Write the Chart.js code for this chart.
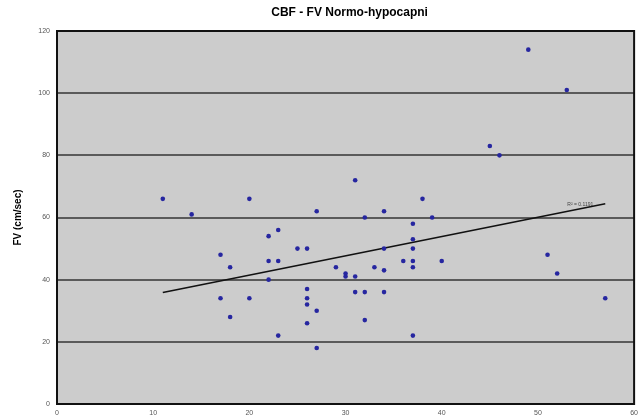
<!DOCTYPE html>
<html><head><meta charset="utf-8">
<script src="https://cdn.jsdelivr.net/npm/chart.js@4.4.1/dist/chart.umd.min.js"></script>
<style>html,body{margin:0;padding:0;background:#fff}#wrap{width:643px;height:418px}</style>
</head><body><div id="wrap"><canvas id="c" width="643" height="418"></canvas></div>
<script>
const chartTitle = 'CBF - FV Normo-hypocapni';
const yAxisTitle = 'FV (cm/sec)';
const xValues = [11,14,17,17,18,18,20,20,22,22,22,23,23,23,25,26,26,26,26,26,27,27,27,29,30,30,31,31,31,32,32,32,33,34,34,34,34,36,37,37,37,37,37,37,38,39,40,45,46,49,51,52,53,57];
const yValues = [66,61,48,34,44,28,66,34,54,46,40,56,46,22,50,50,37,34,32,26,62,30,18,44,42,41,72,41,36,60,36,27,44,62,50,43,36,46,58,53,50,46,44,22,66,60,46,83,80,114,48,42,101,34];
const xTickMin = 0, xTickMax = 60, xTickStep = 10;
const yTickMin = 0, yTickMax = 120, yTickStep = 20;

// linear regression (trend line) computed from the data
const n = xValues.length;
const mx = xValues.reduce((a,b)=>a+b,0)/n;
const my = yValues.reduce((a,b)=>a+b,0)/n;
let sxy=0, sxx=0, syy=0;
for (let i=0;i<n;i++){ sxy+=(xValues[i]-mx)*(yValues[i]-my); sxx+=(xValues[i]-mx)**2; syy+=(yValues[i]-my)**2; }
const slope = sxy/sxx, intercept = my - slope*mx;
const r2 = (sxy*sxy)/(sxx*syy);
const xMin = Math.min(...xValues), xMax = Math.max(...xValues);
const trend = [{x:xMin, y:intercept+slope*xMin},{x:xMax, y:intercept+slope*xMax}];
const points = xValues.map((x,i)=>({x, y:yValues[i]}));

const plotDeco = {
  id:'plotDeco',
  beforeDraw(chart){
    const {ctx, chartArea:a} = chart;
    ctx.save(); ctx.fillStyle='#cccccc';
    ctx.fillRect(a.left, a.top, a.right-a.left, a.bottom-a.top); ctx.restore();
  },
  beforeDatasetsDraw(chart){
    const {ctx, chartArea:a} = chart;
    ctx.save(); ctx.strokeStyle='#111'; ctx.lineWidth=2;
    ctx.strokeRect(a.left, a.top, a.right-a.left, a.bottom-a.top); ctx.restore();
  },
  afterDraw(chart){
    const {ctx, chartArea:a} = chart;
    ctx.save();
    ctx.fillStyle='#000'; ctx.font='bold 12px "Liberation Sans", Arial, sans-serif';
    ctx.textAlign='center'; ctx.textBaseline='middle';
    ctx.fillText(chartTitle, (a.left+a.right)/2 + 4, 13);
    const meta = chart.getDatasetMeta(1);
    const end = meta.data[meta.data.length-1];
    ctx.fillStyle='#444'; ctx.font='5px "Liberation Sans", Arial, sans-serif';
    ctx.textAlign='right'; ctx.textBaseline='alphabetic';
    ctx.fillText('R² = ' + r2.toFixed(4), end.x-12, end.y+2);
    ctx.restore();
  }
};

new Chart(document.getElementById('c'), {
  type:'scatter',
  data:{datasets:[
    {data:points, backgroundColor:'#2626a0', borderWidth:0, pointRadius:2.3, pointHoverRadius:2.3},
    {type:'line', data:trend, borderColor:'#111', borderWidth:1.6, pointRadius:0, fill:false, tension:0}
  ]},
  options:{
    responsive:false, animation:false, devicePixelRatio:1,
    layout:{padding:{top:31, right:7, left:0, bottom:0}},
    plugins:{legend:{display:false}, tooltip:{enabled:false}, title:{display:false}},
    scales:{
      x:{type:'linear', min:xTickMin, max:xTickMax,
        ticks:{stepSize:xTickStep, font:{size:7, family:'"Liberation Sans", Arial'}, color:'#555', padding:5, maxRotation:0},
        grid:{display:false, drawTicks:false}, border:{display:false},
        afterFit(s){ s.height=14; }
      },
      y:{min:yTickMin, max:yTickMax,
        ticks:{stepSize:yTickStep, font:{size:7, family:'"Liberation Sans", Arial'}, color:'#555', padding:7},
        grid:{color:'#5a5a5a', lineWidth:2, drawTicks:false}, border:{display:false},
        title:{display:true, text:yAxisTitle, color:'#000', font:{size:10, weight:'bold', family:'"Liberation Sans", Arial'}, padding:{top:12, bottom:0}},
        afterFit(s){ s.width=57; }
      }
    }
  },
  plugins:[plotDeco]
});
</script></body></html>
